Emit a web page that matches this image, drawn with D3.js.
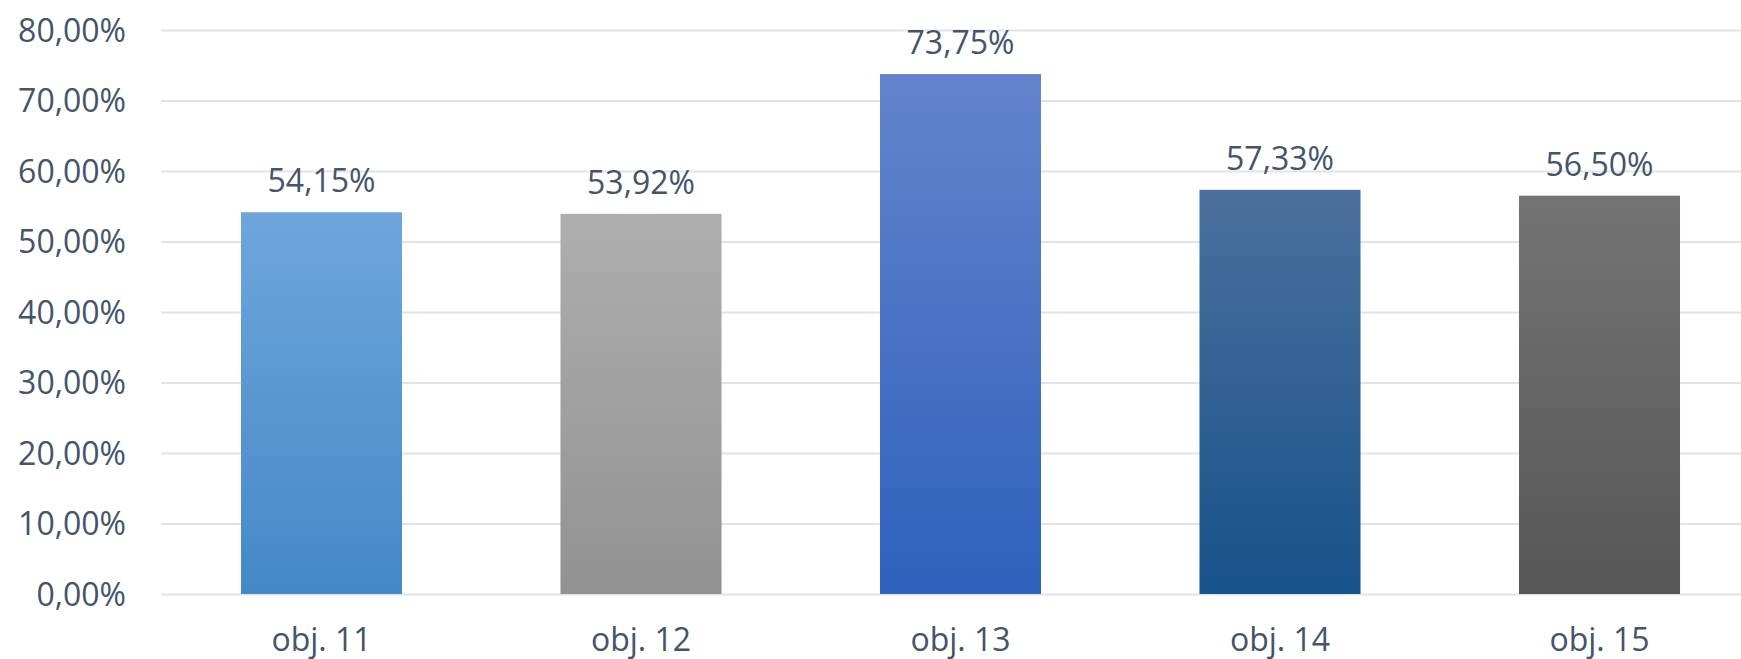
<!DOCTYPE html>
<html>
<head>
<meta charset="utf-8">
<script src="https://cdn.jsdelivr.net/npm/d3@7"></script>
<style>
  html, body { margin: 0; padding: 0; background: #fff; }
  svg { display: block; }
</style>
</head>
<body>
<svg id="chart" width="1741" height="659"></svg>
<script>
const categories = ["obj. 11", "obj. 12", "obj. 13", "obj. 14", "obj. 15"];
const values = [54.15, 53.92, 73.75, 57.33, 56.50];
const valueLabels = ["54,15%", "53,92%", "73,75%", "57,33%", "56,50%"];
const tickValues = [0, 10, 20, 30, 40, 50, 60, 70, 80];
const tickLabels = ["0,00%", "10,00%", "20,00%", "30,00%", "40,00%", "50,00%", "60,00%", "70,00%", "80,00%"];
const barTopColors = ["#6EA6DC", "#AEAEAE", "#6384CC", "#4B709D", "#747474"];
const barBottomColors = ["#4588C7", "#929292", "#2E61BB", "#175289", "#565656"];

const svg = d3.select("#chart");
const textColor = "#44546A";
const font = "'Open Sans', sans-serif";

const x = d3.scaleBand().domain(categories).range([161.75, 1759.25]).paddingInner(0.496).paddingOuter(0.248);
const y = d3.scaleLinear().domain([0, 80]).range([594, 30]);

const defs = svg.append("defs");
categories.forEach((c, i) => {
  const g = defs.append("linearGradient").attr("id", "grad" + i)
    .attr("x1", 0).attr("y1", 0).attr("x2", 0).attr("y2", 1);
  g.append("stop").attr("offset", "0%").attr("stop-color", barTopColors[i]);
  g.append("stop").attr("offset", "100%").attr("stop-color", barBottomColors[i]);
});

// gridlines
const grid = svg.append("g")
  .call(d3.axisLeft(y).tickValues(tickValues).tickSize(-(1741 - 161)).tickFormat(""))
  .attr("transform", "translate(161,0)");
grid.select(".domain").remove();
grid.selectAll(".tick line").attr("stroke", "#E0E4EA").attr("stroke-width", 2);

// y labels
const yAxis = svg.append("g").attr("transform", "translate(126,0)")
  .call(d3.axisLeft(y).tickValues(tickValues).tickSize(0).tickPadding(0)
    .tickFormat((d, i) => tickLabels[i]));
yAxis.select(".domain").remove();
yAxis.selectAll("text").attr("fill", textColor).attr("font-family", font)
  .attr("font-size", 32).attr("dy", "0.35em");

// bars
svg.append("g").selectAll("rect").data(values).join("rect")
  .attr("x", (d, i) => x(categories[i]))
  .attr("width", x.bandwidth())
  .attr("y", d => y(d))
  .attr("height", d => y(0) - y(d))
  .attr("fill", (d, i) => `url(#grad${i})`);

// value labels
svg.append("g").selectAll("text").data(values).join("text")
  .attr("x", (d, i) => x(categories[i]) + x.bandwidth() / 2)
  .attr("y", d => y(d) - 20)
  .attr("text-anchor", "middle")
  .attr("fill", textColor).attr("font-family", font).attr("font-size", 32)
  .text((d, i) => valueLabels[i]);

// x labels
const xAxis = svg.append("g").attr("transform", "translate(0,594)")
  .call(d3.axisBottom(x).tickSize(0).tickPadding(0));
xAxis.select(".domain").remove();
xAxis.selectAll("text").attr("fill", textColor).attr("font-family", font)
  .attr("font-size", 32).attr("dy", null).attr("y", 57);
</script>
</body>
</html>
